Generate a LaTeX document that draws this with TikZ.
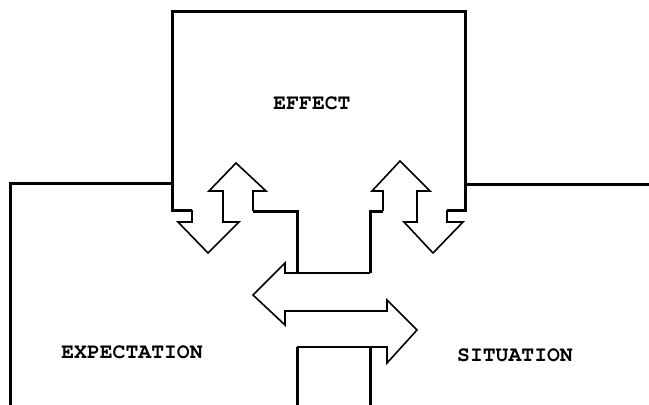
\documentclass[tikz,border=0pt]{standalone}
\usepackage{fontspec}
\newfontfamily\areafont{texgyrecursor-bold}[Extension=.otf]
\tikzset{
  wall/.style={line width=3bp, line join=miter},
  flow/.style={line width=1.6bp, line join=miter},
  area/.style={font=\areafont\fontsize{21.5}{22}\selectfont}
}
\begin{document}
\begin{tikzpicture}[x=1bp,y=-1bp]
\useasboundingbox (0,0) rectangle (649,404);
% boxes
\draw[wall] (192,210) -- (172,210) -- (172,11) -- (465,11) -- (465,210) -- (447,210);
\draw[wall] (10,406) -- (10,183) -- (172,183);
\draw[wall] (465,184) -- (651,184);
\draw[wall] (253,211) -- (297,211) -- (297,273);
\draw[wall] (383,211) -- (370,211) -- (370,273);
\draw[wall] (297,347) -- (297,406);
\draw[wall] (370,347) -- (370,406);
% up and down arrows
\draw[flow] (192,210) -- (192,222) -- (178,222) -- (208,253) -- (239,222) -- (223,222)
  -- (223,191) -- (209,191) -- (236,163) -- (266,191) -- (253,191) -- (253,211);
\draw[flow] (383,211) -- (383,191) -- (372,191) -- (400,161) -- (430,191) -- (417,191)
  -- (417,222) -- (404,222) -- (433,253) -- (463,222) -- (447,222) -- (447,210);
% left and right arrows
\draw[flow] (370,273) -- (285,273) -- (285,263) -- (253,295) -- (285,325) -- (285,311)
  -- (387,311) -- (387,300) -- (417,330) -- (387,363) -- (387,347) -- (297,347);
\node[area] (effect) at (312,103) {EFFECT};
\node[area] (expectation) at (132,352) {EXPECTATION};
\node[area] (situation) at (515,355) {SITUATION};
\end{tikzpicture}
\end{document}
